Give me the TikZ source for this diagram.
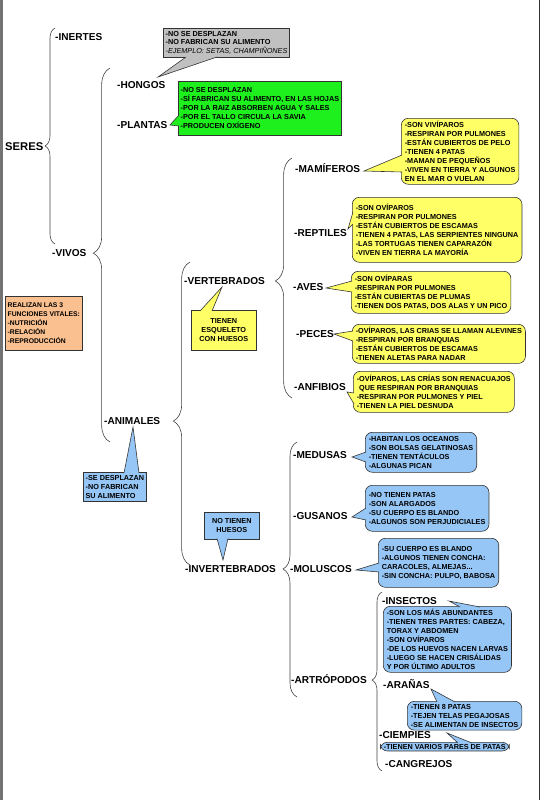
\documentclass[tikz,border=0pt]{standalone}
\usepackage{fontspec}
\setmainfont{Liberation Sans}
\usetikzlibrary{calc,decorations.pathreplacing}
\definecolor{ylw}{RGB}{255,255,102}
\definecolor{blu}{RGB}{150,198,245}
\definecolor{grn}{RGB}{30,240,30}
\definecolor{gry}{RGB}{192,192,192}
\definecolor{org}{RGB}{250,192,143}
\begin{document}
\begin{tikzpicture}[x=0.03cm, y=-0.03cm,
  lbl/.style={inner sep=0pt, anchor=west, text height=6.2pt, text depth=0pt, font=\bfseries\fontsize{8.6}{10}\selectfont},
  note/.style={draw=black!80, line width=0.5pt, inner xsep=2pt, inner ysep=2.5pt, align=left, anchor=north west, font=\bfseries\fontsize{6.2}{7.6}\selectfont},
  ynote/.style={note, fill=ylw, rounded corners=6pt, inner xsep=3pt},
  bnote/.style={note, fill=blu, rounded corners=6pt, inner xsep=3pt},
  brc/.style={draw=black!75, line width=0.5pt, decorate, decoration={brace, amplitude=0.3cm}},
  ptr/.style={draw=black!80, line width=0.5pt, fill=#1}]
  \useasboundingbox (0,0) rectangle (542,800);
  \fill [black!55] (0,0) rectangle (3,800);
  \draw [black!80, line width=0.8pt] (539,0) -- (539,800);

  \node (seres) [lbl, font=\bfseries\fontsize{9.6}{11}\selectfont] at (5,147) {SERES};
  \node (inertes) [lbl] at (55,37) {-INERTES};
  \node (vivos) [lbl] at (52,253) {-VIVOS};
  \node (hongos) [lbl] at (117,85) {-HONGOS};
  \node (plantas) [lbl] at (117,125) {-PLANTAS};
  \node (animales) [lbl] at (104,421) {-ANIMALES};
  \node (vert) [lbl] at (184,281) {-VERTEBRADOS};
  \node (invert) [lbl] at (185,569) {-INVERTEBRADOS};
  \node (mamif) [lbl] at (295,169) {-MAMÍFEROS};
  \node (reptil) [lbl] at (294,233) {-REPTILES};
  \node (aves) [lbl] at (293,287) {-AVES};
  \node (peces) [lbl] at (296,334) {-PECES};
  \node (anfib) [lbl] at (294,387) {-ANFIBIOS};
  \node (medusa) [lbl] at (293,455) {-MEDUSAS};
  \node (gusano) [lbl] at (293,516) {-GUSANOS};
  \node (molusco) [lbl] at (290,569) {-MOLUSCOS};
  \node (artrop) [lbl] at (291,680) {-ARTRÓPODOS};
  \node (insecto) [lbl] at (382,601) {-INSECTOS};
  \node (arana) [lbl] at (383,685) {-ARAÑAS};
  \node (ciemp) [lbl] at (379,735) {-CIEMPIES};
  \node (cangre) [lbl] at (385,764) {-CANGREJOS};

  \coordinate (seresbot) at (55,244);
  \coordinate (serestop) at (55,28);
  \coordinate (vivosbot) at (110,442);
  \coordinate (vivostop) at (110,68);
  \coordinate (animbot) at (190,565);
  \coordinate (animtop) at (190,262);
  \coordinate (vertbot) at (292,398);
  \coordinate (verttop) at (292,158);
  \coordinate (invbot) at (297,697);
  \coordinate (invtop) at (297,442);
  \coordinate (artbot) at (382,771);
  \coordinate (arttop) at (382,592);
  \draw [brc, decoration={aspect=0.454}] (seresbot) -- (serestop);
  \draw [brc, decoration={amplitude=0.5cm, aspect=0.505}] (vivosbot) -- (vivostop);
  \draw [brc, decoration={amplitude=0.5cm, aspect=0.475}] (animbot) -- (animtop);
  \draw [brc, decoration={amplitude=0.5cm, aspect=0.4875}] (vertbot) -- (verttop);
  \draw [brc, decoration={amplitude=0.42cm, aspect=0.502}] (invbot) -- (invtop);
  \draw [brc, decoration={aspect=0.508}] (artbot) -- (arttop);

  \node (hongnote) [note, fill=gry, anchor=south west, minimum height=0.81cm] at (163,58) {-NO SE DESPLAZAN\\-NO FABRICAN SU ALIMENTO\\{\mdseries\itshape -EJEMPLO: SETAS, CHAMPIÑONES}};
  \coordinate (hongtip) at (158,77);
  \draw [ptr=gry] ($(hongnote.south west)+(23,-1)$) -- (hongtip) -- ($(hongnote.south west)+(54,-1)$);

  \node (plantnote) [note, fill=grn, minimum height=1.62cm] at (178,81) {-NO SE DESPLAZAN\\-SÍ FABRICAN SU ALIMENTO, EN LAS HOJAS\\-POR LA RAIZ ABSORBEN AGUA Y SALES\\-POR EL TALLO CIRCULA LA SAVIA\\-PRODUCEN OXÍGENO};
  \coordinate (planttip) at (170,125);
  \draw [ptr=grn] ($(plantnote.north west)+(1,34)$) -- (planttip) -- ($(plantnote.north west)+(1,45)$);

  \node (vivnote) [note, fill=org, minimum height=1.62cm, font=\bfseries\fontsize{5.8}{7.6}\selectfont] at (5,296) {REALIZAN LAS 3\\FUNCIONES VITALES:\\-NUTRICIÓN\\-RELACIÓN\\-REPRODUCCIÓN};

  \node (vertnote) [note, fill=ylw, align=center, minimum height=1.2cm, minimum width=1.95cm] at (191,310) {TIENEN\\ESQUELETO\\CON HUESOS};
  \coordinate (verttip) at (222,287);
  \draw [ptr=ylw] ($(vertnote.north west)+(9,1)$) -- (verttip) -- ($(vertnote.north west)+(21,1)$);

  \node (mamnote) [ynote, minimum height=1.98cm] at (401,118) {-SON VIVÍPAROS\\-RESPIRAN POR PULMONES\\-ESTÁN CUBIERTOS DE PELO\\-TIENEN 4 PATAS\\-MAMAN DE PEQUEÑOS\\-VIVEN EN TIERRA Y ALGUNOS\\EN EL MAR O VUELAN};
  \coordinate (mamtip) at (364,171);
  \draw [ptr=ylw] ($(mamnote.north west)+(1,37)$) -- (mamtip) -- ($(mamnote.north west)+(1,54)$);

  \node (repnote) [ynote, minimum height=1.95cm] at (352,197) {-SON OVÍPAROS\\-RESPIRAN POR PULMONES\\-ESTÁN CUBIERTOS DE ESCAMAS\\-TIENEN 4 PATAS, LAS SERPIENTES NINGUNA\\-LAS TORTUGAS TIENEN CAPARAZÓN\\-VIVEN EN TIERRA LA MAYORÍA};
  \coordinate (reptip) at (348,229);
  \draw [ptr=ylw] ($(repnote.north west)+(1,15)$) -- (reptip) -- ($(repnote.north west)+(1,27)$);

  \node (avenote) [ynote, minimum height=1.26cm] at (351,271) {-SON OVÍPARAS\\-RESPIRAN POR PULMONES\\-ESTÁN CUBIERTAS DE PLUMAS\\-TIENEN DOS PATAS, DOS ALAS Y UN PICO};
  \coordinate (avetip) at (326,288);
  \draw [ptr=ylw] ($(avenote.north west)+(1,10)$) -- (avetip) -- ($(avenote.north west)+(1,21)$);

  \node (pecnote) [ynote, minimum height=1.14cm] at (352,324) {-OVÍPAROS, LAS CRIAS SE LLAMAN ALEVINES\\-RESPIRAN POR BRANQUIAS\\-ESTÁN CUBIERTOS DE ESCAMAS\\-TIENEN ALETAS PARA NADAR};
  \coordinate (pectip) at (334,334);
  \draw [ptr=ylw] ($(pecnote.north west)+(1,7)$) -- (pectip) -- ($(pecnote.north west)+(1,17)$);

  \node (anfnote) [ynote, minimum height=1.23cm] at (353,371) {-OVÍPAROS, LAS CRÍAS SON RENACUAJOS\\\hphantom{-}QUE RESPIRAN POR BRANQUIAS\\-RESPIRAN POR PULMONES Y PIEL\\-TIENEN LA PIEL DESNUDA};
  \coordinate (anftip) at (347,392);
  \draw [ptr=ylw] ($(anfnote.north west)+(1,22)$) -- (anftip) -- ($(anfnote.north west)+(1,33)$);

  \node (aninote) [note, fill=blu, minimum height=0.81cm] at (83,472) {-SE DESPLAZAN\\-NO FABRICAN\\SU ALIMENTO};
  \coordinate (anitip) at (133,427);
  \draw [ptr=blu] ($(aninote.north west)+(41,1)$) -- (anitip) -- ($(aninote.north west)+(56,1)$);

  \node (hsnote) [note, fill=blu, align=center, minimum height=0.81cm, minimum width=1.65cm] at (204,512) {NO TIENEN\\HUESOS};
  \coordinate (hstip) at (223,560);
  \draw [ptr=blu] ($(hsnote.south west)+(13,-1)$) -- (hstip) -- ($(hsnote.south west)+(24,-1)$);

  \node (mednote) [bnote, minimum height=1.2cm] at (365,432) {-HABITAN LOS OCEANOS\\-SON BOLSAS GELATINOSAS\\-TIENEN TENTÁCULOS\\-ALGUNAS PICAN};
  \coordinate (medtip) at (352,457);
  \draw [ptr=blu] ($(mednote.north west)+(1,20)$) -- (medtip) -- ($(mednote.north west)+(1,30)$);

  \node (gusnote) [bnote, minimum height=1.38cm] at (365,485) {-NO TIENEN PATAS\\-SON ALARGADOS\\-SU CUERPO ES BLANDO\\-ALGUNOS SON PERJUDICIALES};
  \coordinate (gustip) at (352,517);
  \draw [ptr=blu] ($(gusnote.north west)+(1,23)$) -- (gustip) -- ($(gusnote.north west)+(1,35)$);

  \node (molnote) [bnote, minimum height=1.47cm] at (378,538) {-SU CUERPO ES BLANDO\\-ALGUNOS TIENEN CONCHA:\\CARACOLES, ALMEJAS...\\-SIN CONCHA: PULPO, BABOSA};
  \coordinate (moltip) at (356,570);
  \draw [ptr=blu] ($(molnote.north west)+(1,25)$) -- (moltip) -- ($(molnote.north west)+(1,34)$);

  \node (insnote) [bnote, minimum height=1.98cm] at (383,606) {-SON LOS MÁS ABUNDANTES\\-TIENEN TRES PARTES: CABEZA,\\TORAX Y ABDOMEN\\-SON OVÍPAROS\\-DE LOS HUEVOS NACEN LARVAS\\-LUEGO SE HACEN CRISÁLIDAS\\Y POR ÚLTIMO ADULTOS};
  \coordinate (instip) at (449,601);
  \draw [ptr=blu] ($(insnote.north west)+(77,1)$) -- (instip) -- ($(insnote.north west)+(97,1)$);

  \node (arannote) [bnote, minimum height=0.81cm] at (407,701) {-TIENEN 8 PATAS\\-TEJEN TELAS PEGAJOSAS\\-SE ALIMENTAN DE INSECTOS};
  \coordinate (arantip) at (431,689);
  \draw [ptr=blu] ($(arannote.north west)+(30,1)$) -- (arantip) -- ($(arannote.north west)+(48,1)$);

  \node (ciemnote) [bnote, inner ysep=1.5pt] at (380,742) {-TIENEN VARIOS PARES DE PATAS};
  \coordinate (ciemtip) at (447,733);
  \draw [ptr=blu] ($(ciemnote.north west)+(78,1)$) -- (ciemtip) -- ($(ciemnote.north west)+(92,1)$);
\end{tikzpicture}
\end{document}
